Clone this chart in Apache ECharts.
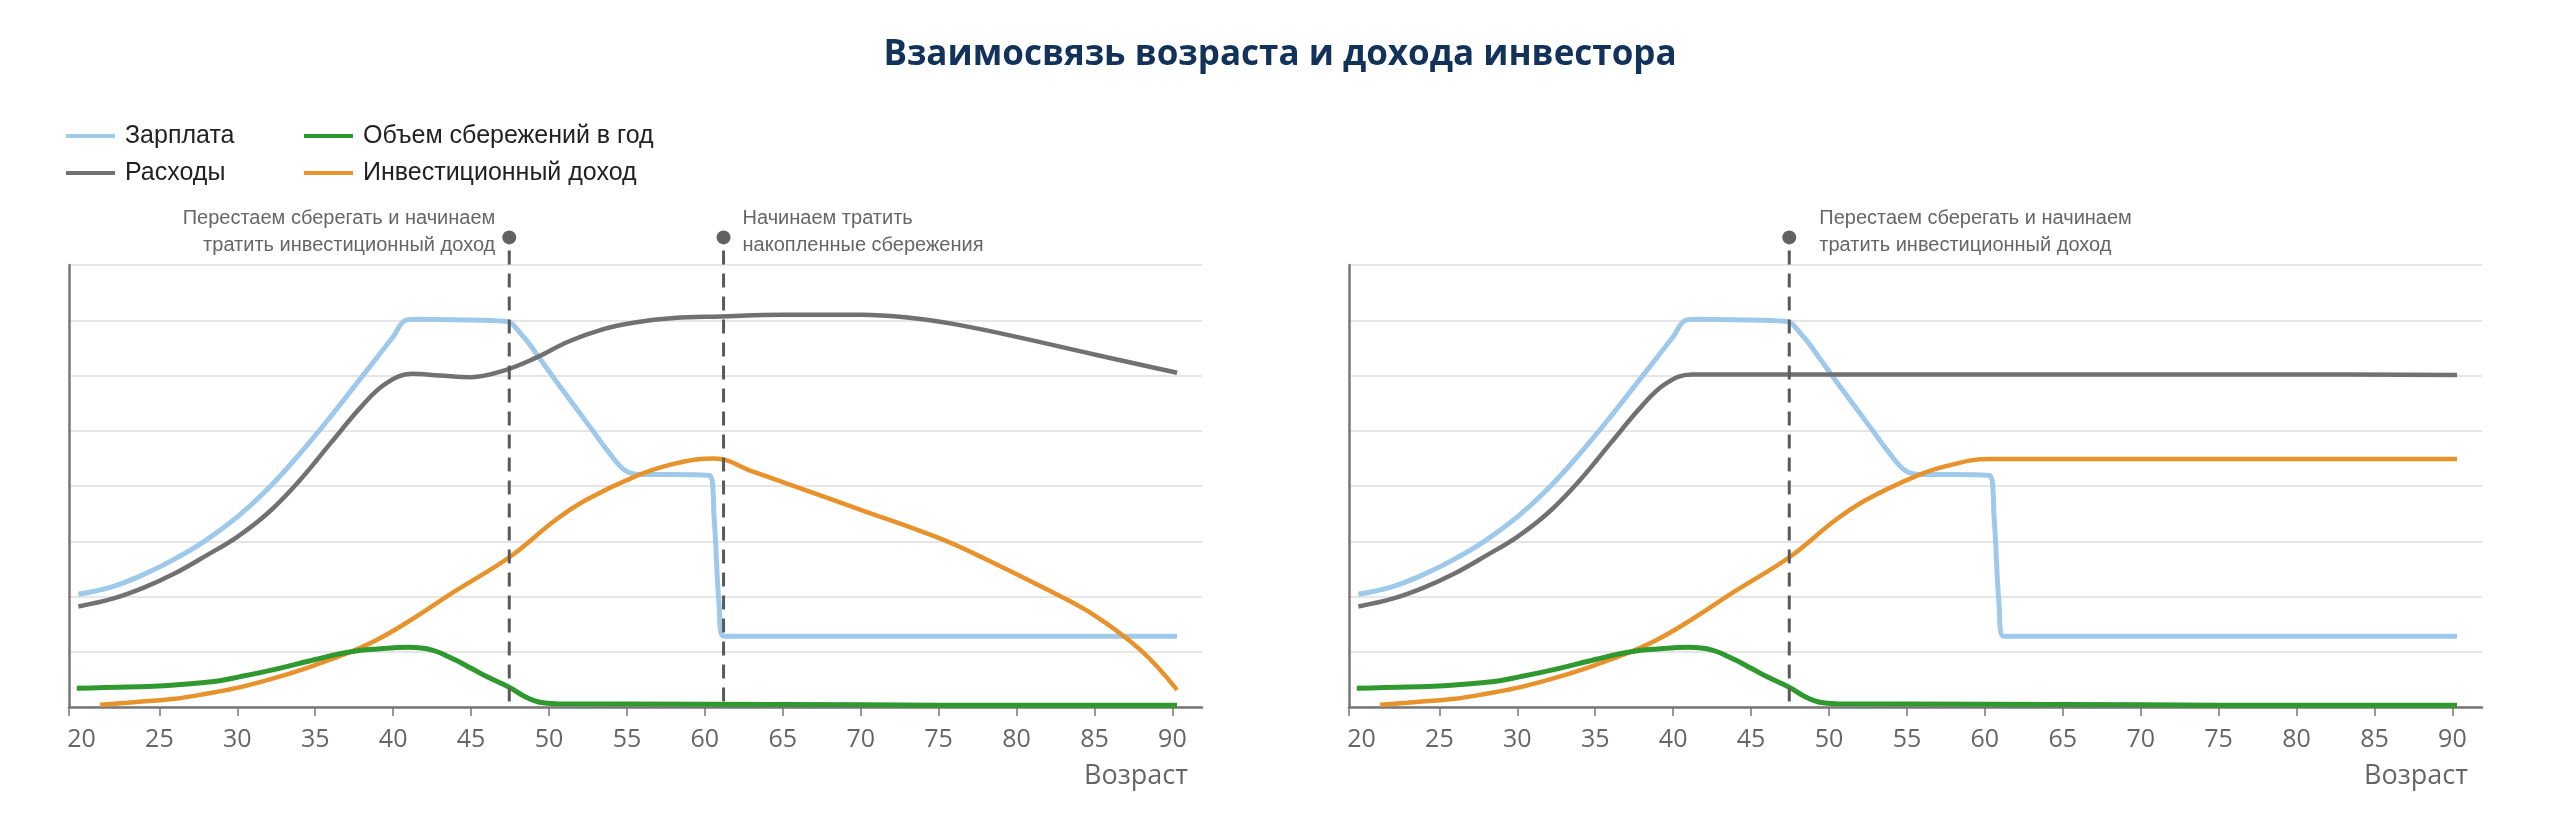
<!DOCTYPE html>
<html>
<head>
<meta charset="utf-8">
<script src="https://cdn.jsdelivr.net/npm/echarts@6/dist/echarts.min.js"></script>
<style>
  html, body { margin: 0; padding: 0; background: #fff; }
  #chart { width: 2560px; height: 814px; }
</style>
</head>
<body>
<div id="chart"></div>
<script>
// ages on the x axis, values in abstract units (0..8)
const tickAges = [25, 30, 35, 40, 45, 50, 55, 60, 65, 70, 75, 80, 85, 90];
const labelAges = [20, 25, 30, 35, 40, 45, 50, 55, 60, 65, 70, 75, 80, 85, 90];

const salaryAges = [19.8, 22, 24, 26, 28, 30, 32, 34, 36, 38, 40, 40.8, 41.5, 44, 47.2, 48.3, 49.3, 50.4, 52.5, 54, 54.9, 55.8, 58, 60.3, 60.6, 60.9, 61.2, 70, 80, 90.3];
const salaryValues = [2.04, 2.18, 2.4, 2.68, 3.02, 3.44, 3.96, 4.58, 5.26, 5.98, 6.7, 7.0, 7.02, 7.01, 6.98, 6.72, 6.35, 5.92, 5.12, 4.55, 4.28, 4.21, 4.21, 4.19, 3.4, 1.9, 1.28, 1.28, 1.28, 1.28];

const spendLeftAges = [19.8, 22, 24, 26, 28, 30, 32, 34, 36, 38, 39.5, 41.2, 43, 45, 47, 49, 51.3, 53.5, 55.5, 58, 61, 65, 70, 73, 76, 80, 85, 90.3];
const spendLeftValues = [1.82, 1.96, 2.16, 2.42, 2.74, 3.08, 3.52, 4.1, 4.78, 5.45, 5.85, 6.03, 6.0, 5.97, 6.08, 6.3, 6.62, 6.84, 6.96, 7.04, 7.07, 7.1, 7.1, 7.05, 6.93, 6.7, 6.38, 6.05];

const spendRightAges = [19.8, 22, 24, 26, 28, 30, 32, 34, 36, 38, 39.5, 41.2, 45, 50, 60, 70, 80, 90.3];
const spendRightValues = [1.82, 1.96, 2.16, 2.42, 2.74, 3.08, 3.52, 4.1, 4.78, 5.45, 5.85, 6.02, 6.02, 6.02, 6.02, 6.02, 6.02, 6.01];

const incomeLeftAges = [21.2, 23.5, 26, 28, 30.2, 32.7, 35, 37.3, 39, 41, 44, 47.5, 50.4, 52.4, 55.5, 58, 60.6, 63, 66, 70, 75, 78, 82, 85, 88, 90.3];
const incomeLeftValues = [0.04, 0.09, 0.15, 0.24, 0.36, 0.55, 0.76, 1.0, 1.22, 1.55, 2.1, 2.72, 3.38, 3.75, 4.17, 4.4, 4.5, 4.27, 3.97, 3.57, 3.06, 2.68, 2.12, 1.66, 1.02, 0.31];

const incomeRightAges = [21.2, 23.5, 26, 28, 30.2, 32.7, 35, 37.3, 39, 41, 44, 47.5, 50.4, 52.4, 55.5, 57.5, 60.3, 70, 80, 90.3];
const incomeRightValues = [0.04, 0.09, 0.15, 0.24, 0.36, 0.55, 0.76, 1.0, 1.22, 1.55, 2.1, 2.72, 3.38, 3.75, 4.17, 4.36, 4.49, 4.49, 4.49, 4.49];

const savingsAges = [19.7, 23, 26, 28.5, 30.2, 32.7, 35, 37.3, 39, 41, 42.5, 44, 45, 46, 47.5, 48.5, 49.5, 50.5, 60, 70, 80, 90.3];
const savingsValues = [0.34, 0.36, 0.4, 0.46, 0.55, 0.7, 0.86, 1.0, 1.05, 1.08, 1.03, 0.85, 0.7, 0.55, 0.35, 0.18, 0.08, 0.06, 0.05, 0.04, 0.03, 0.03];

const leftNoteAges = [47.45, 61.2];
const leftNoteTexts = ["Перестаем сберегать и начинаем\nтратить инвестиционный доход", "Начинаем тратить\nнакопленные сбережения"];
const rightNoteAges = [47.45];
const rightNoteTexts = ["Перестаем сберегать и начинаем\nтратить инвестиционный доход"];

const names = ["Зарплата", "Расходы", "Объем сбережений в год", "Инвестиционный доход"];
const colors = { "Зарплата": "#9ec9eb", "Расходы": "#717171", "Объем сбережений в год": "#2f982f", "Инвестиционный доход": "#e8922c" };
const widths = { "Зарплата": 5, "Расходы": 4.5, "Объем сбережений в год": 5, "Инвестиционный доход": 4.5 };

const X_MIN = 19.2, X_MAX = 91.9, NOTE_TOP = 8.5;

function pairs(xs, ys) {
  return xs.map((x, i) => [x, ys[i]]);
}

function lineSeries(name, idx, xs, ys) {
  return {
    name: name,
    type: "line",
    xAxisIndex: idx,
    yAxisIndex: idx,
    data: pairs(xs, ys),
    smooth: 0.4,
    symbol: "none",
    color: colors[name],
    lineStyle: { width: widths[name], color: colors[name] },
    z: 3,
  };
}

function noteSeries(idx, ages, texts, styles) {
  return {
    type: "custom",
    xAxisIndex: idx,
    yAxisIndex: idx,
    clip: false,
    silent: true,
    z: 5,
    data: ages.map((a) => [a, NOTE_TOP]),
    renderItem: function (params, api) {
      const top = api.coord([api.value(0), api.value(1)]);
      const bottom = api.coord([api.value(0), 0]);
      const st = styles[params.dataIndex];
      return {
        type: "group",
        children: [
          {
            type: "line",
            shape: { x1: top[0], y1: top[1] + 13, x2: bottom[0], y2: bottom[1] },
            style: { stroke: "#5a5a5a", lineWidth: 3, lineDash: [14, 9] },
          },
          {
            type: "circle",
            shape: { cx: top[0], cy: top[1], r: 7 },
            style: { fill: "#626262" },
          },
          {
            type: "text",
            x: top[0] + st.dx,
            y: top[1] - 5,
            style: {
              text: texts[params.dataIndex],
              fill: "#666",
              font: "20px 'Liberation Sans', Arial, sans-serif",
              lineHeight: 27,
              align: st.align,
              verticalAlign: "middle",
            },
          },
        ],
      };
    },
  };
}

function xAxisFor(idx) {
  return {
    type: "value",
    gridIndex: idx,
    min: X_MIN,
    max: X_MAX,
    axisLine: { lineStyle: { color: "#777", width: 2.5 } },
    axisTick: {
      show: true,
      length: 9,
      lineStyle: { color: "#777", width: 1.5 },
      customValues: [X_MIN].concat(tickAges),
    },
    axisLabel: {
      customValues: labelAges,
      color: "#666",
      fontSize: 25,
      fontFamily: "Open Sans",
      margin: 20,
    },
    splitLine: { show: false },
    name: "Возраст",
    nameLocation: "end",
    nameGap: -14,
    nameTextStyle: {
      color: "#666",
      fontSize: 27,
      fontFamily: "Open Sans",
      align: "right",
      verticalAlign: "top",
      padding: [56, 0, 0, 0],
    },
  };
}

function yAxisFor(idx) {
  return {
    type: "value",
    gridIndex: idx,
    min: 0,
    max: 8,
    interval: 1,
    axisLine: { show: true, lineStyle: { color: "#777", width: 2.5 } },
    axisTick: { show: false },
    axisLabel: { show: false },
    splitLine: { lineStyle: { color: "#e6e6e6", width: 2 } },
  };
}

var chart = echarts.init(document.getElementById("chart"));

var legendText = { fontFamily: "Liberation Sans", fontSize: 25, color: "#222", lineHeight: 26, padding: [0, 0, 0, 5] };

var option = {
  backgroundColor: "#fff",
  animation: false,
  title: {
    text: "Взаимосвязь возраста и дохода инвестора",
    left: "center",
    top: 33,
    textStyle: {
      fontFamily: "Open Sans",
      fontSize: 35,
      fontWeight: "bold",
      color: "#12325a",
    },
  },
  legend: [
    {
      data: ["Зарплата", "Расходы"],
      orient: "vertical",
      left: 66,
      top: 123,
      padding: 0,
      itemGap: 11,
      icon: "rect",
      itemWidth: 49,
      itemHeight: 4,
      textStyle: legendText,
    },
    {
      data: ["Объем сбережений в год", "Инвестиционный доход"],
      orient: "vertical",
      left: 304,
      top: 123,
      padding: 0,
      itemGap: 11,
      icon: "rect",
      itemWidth: 49,
      itemHeight: 4,
      textStyle: legendText,
    },
  ],
  grid: [
    { left: 69, right: 1358, top: 265, bottom: 107 },
    { left: 1349, right: 78, top: 265, bottom: 107 },
  ],
  xAxis: [xAxisFor(0), xAxisFor(1)],
  yAxis: [yAxisFor(0), yAxisFor(1)],
  series: [
    lineSeries(names[0], 0, salaryAges, salaryValues),
    lineSeries(names[1], 0, spendLeftAges, spendLeftValues),
    lineSeries(names[3], 0, incomeLeftAges, incomeLeftValues),
    lineSeries(names[2], 0, savingsAges, savingsValues),
    noteSeries(0, leftNoteAges, leftNoteTexts, [
      { dx: -14, align: "right" },
      { dx: 19, align: "left" },
    ]),
    lineSeries(names[0], 1, salaryAges, salaryValues),
    lineSeries(names[1], 1, spendRightAges, spendRightValues),
    lineSeries(names[3], 1, incomeRightAges, incomeRightValues),
    lineSeries(names[2], 1, savingsAges, savingsValues),
    noteSeries(1, rightNoteAges, rightNoteTexts, [{ dx: 30, align: "left" }]),
  ],
};

chart.setOption(option);
window.addEventListener("resize", function () {
  chart.resize();
});
</script>
</body>
</html>
